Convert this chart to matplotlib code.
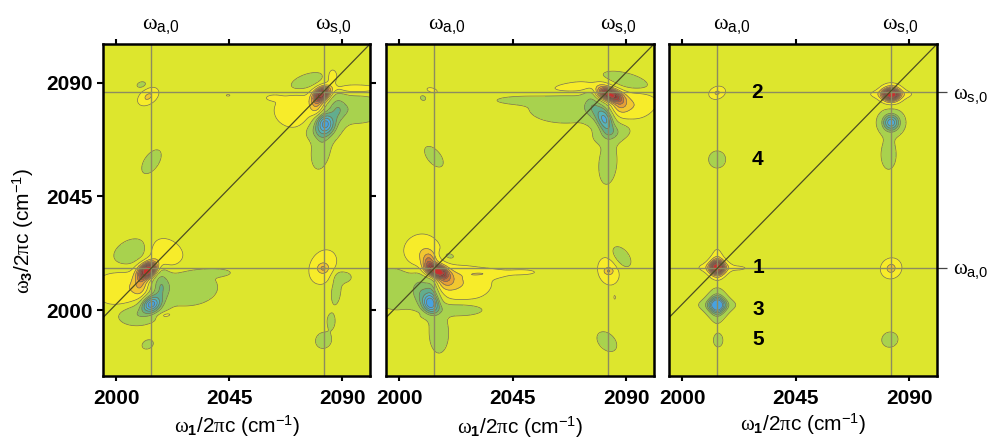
import numpy as np
import matplotlib
matplotlib.use("Agg")
import matplotlib.pyplot as plt

plt.rcParams['font.family'] = ['Liberation Sans', 'DejaVu Sans']
plt.rcParams['mathtext.fontset'] = 'custom'
plt.rcParams['mathtext.rm'] = 'Liberation Sans'
plt.rcParams['mathtext.it'] = 'Liberation Serif'
plt.rcParams['mathtext.bf'] = 'Liberation Sans:bold'
plt.rcParams['contour.negative_linestyle'] = 'solid'

X_TICKS = [2000, 2045, 2090]
Y_TICKS = [2000, 2045, 2090]
XLIM = (1994.7, 2101.0)
YLIM = (1973.9, 2105.3)
OMEGA_A_X, OMEGA_S_X = 2013.7, 2082.6
OMEGA_A_Y, OMEGA_S_Y = 2016.7, 2086.2
DIAG_X = (1994.7, 2101.0)
DIAG_Y = (1997.0, 2105.3)
PEAK_NUMBERS = ['2', '4', '1', '3', '5']
PEAK_NUMBER_X = [2029.7, 2029.7, 2030.3, 2030.0, 2030.0]
PEAK_NUMBER_Y = [2086.2, 2059.6, 2016.7, 2000.2, 1988.3]

# peaks: (omega1, omega3, width1, width3, tilt_deg, amplitude)
PANEL1 = [
    (2081.8, 2085.4, 2.5, 1.7, 35, 1.25), (2083.1, 2074.0, 2.3, 2.6, 30, -0.55),
    (2083.1, 2074.0, 3.5, 4.0, 30, -0.25),
    (2071.0, 2079.0, 5.5, 4.6, 0, 0.24), (2079.8, 2080.5, 2.0, 3.0, 0, 0.36),
    (2086.0, 2092.5, 1.5, 2.2, 0, 0.18), (2095.0, 2087.6, 7.0, 1.2, 0, 0.20),
    (2075.5, 2090.4, 5.0, 2.0, 20, -0.22), (2095.0, 2079.5, 8.0, 3.8, 0, -0.24),
    (2088.0, 2079.5, 2.5, 4.5, 0, -0.22),
    (2081.5, 2063.5, 2.6, 5.5, -10, -0.22), (2080.5, 2070.5, 3.6, 2.5, 0, -0.22),
    (2012.7, 2084.5, 3.0, 1.9, 35, 0.28), (2010.0, 2089.2, 1.6, 1.0, 15, -0.15),
    (2062.5, 2084.0, 2.2, 0.8, 0, 0.14), (2044.5, 2085.0, 0.8, 0.35, 0, 0.12),
    (2014.0, 2058.7, 3.8, 2.0, 55, -0.22),
    (2012.7, 2015.8, 2.5, 1.8, 40, 1.55), (2013.8, 2002.3, 2.4, 2.0, 25, -0.65),
    (2013.8, 2002.3, 4.0, 3.2, 25, -0.25),
    (2019.0, 2022.4, 5.5, 4.0, -25, 0.25), (2006.5, 2023.0, 5.5, 3.4, 25, -0.25),
    (2003.5, 2008.5, 8.0, 5.0, 0, 0.25), (2009.5, 2011.5, 1.9, 4.0, 0, 0.32),
    (2027.0, 2009.0, 9.0, 5.0, 0, -0.24), (2040.0, 2014.8, 4.0, 1.0, 0, -0.16),
    (2017.5, 2010.0, 2.5, 5.0, 0, -0.30),
    (2007.5, 1998.0, 5.0, 2.8, 0, -0.24), (2019.4, 1998.0, 2.5, 0.9, 10, 0.16),
    (2012.5, 1986.4, 1.9, 1.4, 25, -0.17),
    (2082.4, 2017.0, 3.8, 5.0, -25, 0.22), (2082.3, 2016.5, 1.4, 1.2, 0, 0.22),
    (2087.5, 2008.0, 1.6, 4.8, -5, -0.17), (2090.5, 2013.0, 2.6, 1.8, 0, -0.16),
    (2085.5, 1995.5, 1.3, 2.4, 0, -0.16), (2082.5, 1988.0, 2.6, 2.4, 45, -0.18),
]
PANEL2 = [
    (2083.8, 2085.2, 2.8, 1.6, -20, 1.30), (2081.4, 2075.5, 2.0, 3.2, 20, -0.50),
    (2081.4, 2075.5, 3.0, 4.5, 20, -0.22),
    (2066.0, 2079.8, 10.0, 4.0, 0, -0.23), (2047.5, 2083.0, 7.5, 1.2, 0, -0.15),
    (2076.5, 2081.5, 2.5, 4.5, 0, -0.22), (2071.0, 2088.3, 8.5, 1.6, 5, 0.20),
    (2080.0, 2086.0, 2.0, 2.0, 0, 0.32), (2090.5, 2090.5, 7.0, 2.2, -15, -0.23),
    (2092.7, 2081.0, 6.5, 4.0, 15, 0.24), (2087.5, 2082.0, 2.3, 2.7, 0, 0.30),
    (2084.7, 2070.0, 5.0, 2.5, 15, -0.24),
    (2082.7, 2058.0, 2.5, 5.8, -5, -0.22),
    (2013.0, 2087.0, 2.1, 0.9, -15, 0.13), (2009.4, 2083.9, 1.1, 0.9, -30, -0.13),
    (2013.7, 2060.7, 3.6, 1.9, -50, -0.20),
    (2015.0, 2015.4, 2.6, 1.6, -20, 1.50), (2011.7, 2018.8, 1.8, 2.6, 0, 0.45),
    (2012.3, 2002.6, 2.0, 2.4, 20, -0.60), (2012.3, 2002.6, 3.2, 3.6, 20, -0.22),
    (2013.0, 2008.5, 2.0, 4.5, 0, -0.30),
    (2009.0, 2022.4, 5.2, 5.2, -20, 0.24), (2019.6, 2021.4, 2.5, 1.3, -15, -0.15),
    (2024.0, 2010.5, 8.5, 4.8, 0, 0.24), (2018.5, 2012.0, 2.8, 2.6, 0, 0.30),
    (2035.0, 2014.5, 6.5, 1.2, 0, 0.16),
    (1999.7, 2008.6, 7.5, 5.8, 0, -0.24), (2008.5, 2008.5, 2.5, 5.0, 0, -0.24),
    (2023.6, 2000.2, 7.0, 1.8, 0, -0.22), (2015.7, 1990.8, 2.7, 5.5, 0, -0.22),
    (2004.6, 1998.7, 2.4, 0.7, 0, 0.13), (2049.0, 2015.0, 4.2, 0.8, 0, 0.14),
    (2083.0, 2015.5, 3.0, 4.0, 15, 0.22), (2083.0, 2015.4, 1.2, 0.8, 0, 0.20),
    (2088.0, 2021.0, 3.6, 2.2, -50, -0.20),
    (2082.3, 1987.5, 3.4, 2.3, -45, -0.20), (2085.4, 2005.0, 0.35, 0.8, 0, 0.11),
]
PANEL3 = [
    (2013.8, 2016.8, 2.0, 1.9, 0, 1.25), (2013.8, 2016.8, 5.0, 1.3, 0, 0.22),
    (2013.8, 2018.0, 1.6, 4.2, 0, 0.22), (2022.5, 2016.6, 2.0, 0.5, 0, 0.12),
    (2013.8, 2002.0, 2.2, 2.1, 0, -0.65), (2013.8, 2002.0, 4.8, 1.5, 0, -0.20),
    (2013.8, 2002.0, 1.8, 4.8, 0, -0.20), (2013.8, 2002.0, 3.2, 3.2, 0, -0.22),
    (2014.2, 1988.0, 1.5, 2.1, 0, -0.17),
    (2082.8, 2016.5, 2.7, 2.5, 35, 0.30),
    (2082.3, 1988.3, 2.4, 2.2, 20, -0.20),
    (2082.8, 2085.4, 2.2, 1.7, 0, 1.25), (2082.8, 2085.4, 5.5, 1.2, 0, 0.22),
    (2082.8, 2085.4, 3.0, 2.8, 0, 0.18),
    (2013.8, 2086.0, 2.2, 1.6, 20, 0.27),
    (2013.8, 2059.6, 2.5, 2.5, 0, -0.20),
    (2082.8, 2074.2, 2.2, 2.2, 0, -0.62), (2082.8, 2074.2, 3.9, 3.9, 0, -0.20),
    (2081.8, 2061.4, 2.2, 4.2, 0, -0.20),
]

LEVELS = [-0.85, -0.7, -0.55, -0.4, -0.28, -0.08, 0.08, 0.25, 0.4, 0.55, 0.7, 0.85, 1.05, 1.25]
# one colour below, one per band, one above
COLORS = ['#47a2e0', '#50aade', '#58b4b8', '#62ad8e', '#86bd62', '#a8d24e',
          '#dde62d', '#f7ec2a', '#f2c730', '#e6a036', '#c9783c', '#b05a3c',
          '#a0403a', '#8a3432', '#c83030']
W, H = 990.0, 438.0
PANELS = [
    dict(l=103, r=370, peaks=PANEL1, a=161, s=333, xl=237, xly=426),
    dict(l=386, r=654, peaks=PANEL2, a=447, s=618, xl=520, xly=427),
    dict(l=669, r=937, peaks=PANEL3, a=732, s=900, xl=803, xly=424),
]
TOP, BOTTOM = 44, 376


def field(peaks, xx, yy):
    z = np.zeros_like(xx)
    for x0, y0, sx, sy, ang, amp in peaks:
        t = np.deg2rad(ang)
        u = (xx - x0) * np.cos(t) + (yy - y0) * np.sin(t)
        v = -(xx - x0) * np.sin(t) + (yy - y0) * np.cos(t)
        z += amp * np.exp(-0.5 * (u / sx) ** 2 - 0.5 * (v / sy) ** 2)
    return z


fig = plt.figure(figsize=(9.9, 4.38), dpi=100, facecolor='white')


def ftext(px, py, s, **kw):
    kw.setdefault('ha', 'center')
    kw.setdefault('va', 'center')
    return fig.text(px / W, 1 - py / H, s, **kw)


gx = np.linspace(XLIM[0], XLIM[1], 700)
gy = np.linspace(YLIM[0], YLIM[1], 800)
xx, yy = np.meshgrid(gx, gy)
LINE = '#8c8c60'
A0 = r'$\omega_{\mathrm{a{,}0}}$'
S0 = r'$\omega_{\mathrm{s{,}0}}$'
XLAB = r'$\omega_{\mathbf{1}}\mathrm{/2}\pi\mathrm{c\ (cm^{-1})}$'
YLAB = r'$\omega_{\mathbf{3}}\mathrm{/2}\pi\mathrm{c\ (cm^{-1})}$'

for i, p in enumerate(PANELS):
    ax = fig.add_axes([p['l'] / W, 1 - BOTTOM / H, (p['r'] - p['l']) / W, (BOTTOM - TOP) / H])
    z = field(p['peaks'], xx, yy)
    ax.contourf(xx, yy, z, levels=LEVELS, colors=COLORS, extend='both')
    ax.contour(xx, yy, z, levels=LEVELS, colors='#6f6f58', linewidths=0.5)
    ax.axvline(OMEGA_A_X, color=LINE, lw=1.0)
    ax.axvline(OMEGA_S_X, color=LINE, lw=1.0)
    ax.axhline(OMEGA_A_Y, color=LINE, lw=1.0)
    ax.axhline(OMEGA_S_Y, color=LINE, lw=1.0)
    ax.plot(DIAG_X, DIAG_Y, color='#4d4d22', lw=0.9)
    ax.set_xlim(XLIM)
    ax.set_ylim(YLIM)
    ax.set_xticks(X_TICKS)
    ax.tick_params(axis='x', which='both', top=True, bottom=True, direction='out',
                   length=3.5, width=1.5, labelsize=15, pad=6)
    for lab in ax.get_xticklabels():
        lab.set_fontweight('bold')
    if i == 0:
        ax.set_yticks(Y_TICKS)
        ax.tick_params(axis='y', left=True, right=True, direction='out', length=4.5,
                       width=1.5, labelsize=15, pad=3)
        for lab in ax.get_yticklabels():
            lab.set_fontweight('bold')
    else:
        ax.set_yticks([])
    if i == 2:
        ax.yaxis.tick_right()
        ax.set_yticks([OMEGA_A_Y, OMEGA_S_Y])
        ax.set_yticklabels([A0, S0], fontsize=15)
        ax.tick_params(axis='y', right=True, left=False, direction='out', length=7.5,
                       width=0.9, color='#444444', pad=4)
    for sp in ax.spines.values():
        sp.set_linewidth(1.8)
        sp.set_zorder(10)
    ftext(p['a'], 26, A0, fontsize=16)
    ftext(p['s'], 26, S0, fontsize=16)
    ftext(p['xl'], p['xly'], XLAB, fontsize=15)
    if i == 2:
        for sx, sy, s in zip(PEAK_NUMBER_X, PEAK_NUMBER_Y, PEAK_NUMBERS):
            ax.text(sx, sy, s, fontsize=15, fontweight='bold', ha='center', va='center')

ftext(23, 231, YLAB, fontsize=15, rotation=90)
fig.savefig('out.png', dpi=100)
